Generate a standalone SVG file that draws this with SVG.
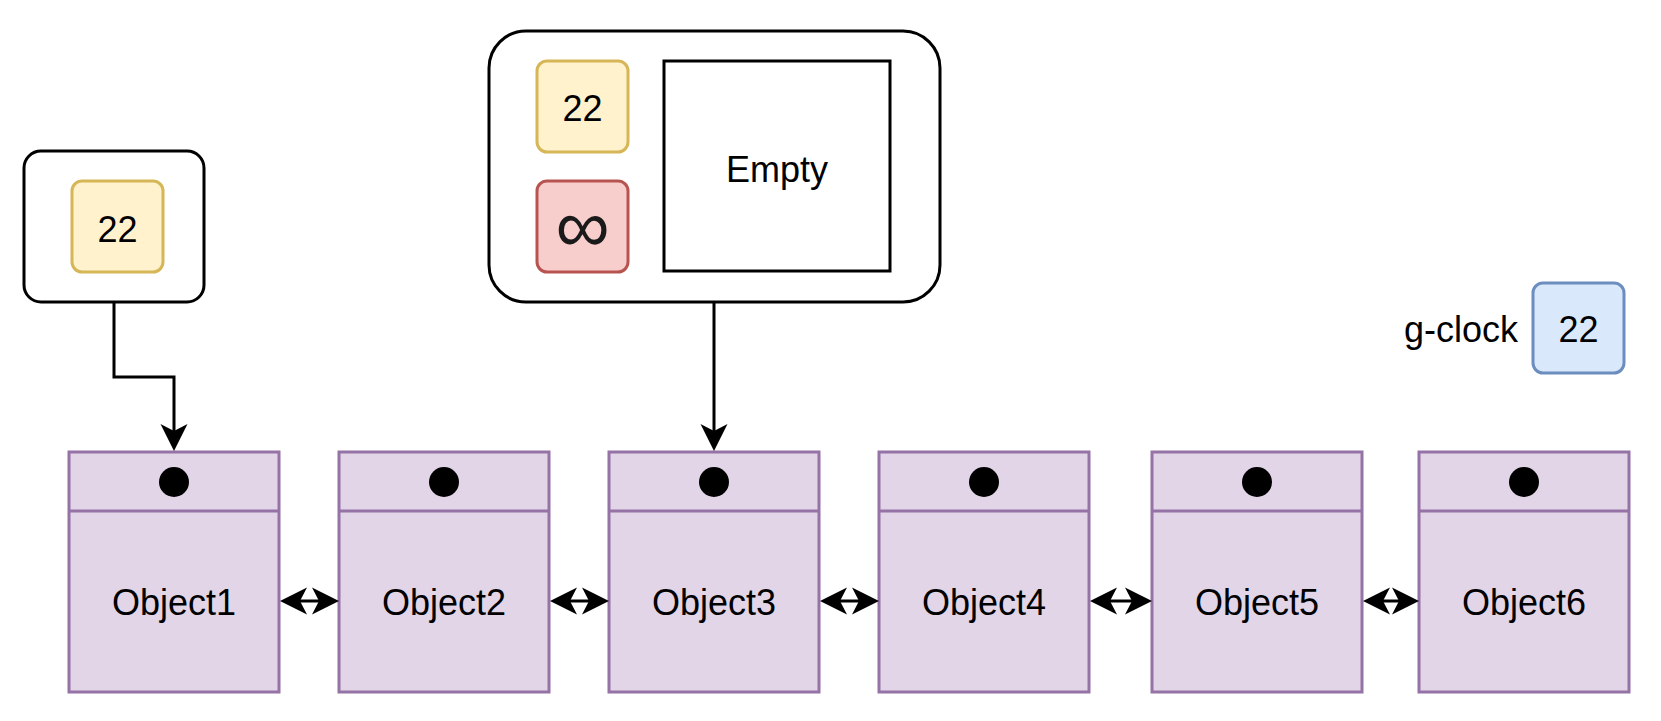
<svg xmlns="http://www.w3.org/2000/svg" width="1661" height="721" viewBox="0 0 1661 721">
<style>
text{font-family:"Liberation Sans",Arial,sans-serif;font-size:36px;fill:#000;text-anchor:middle}
.frame{fill:#fff;stroke:#000;stroke-width:3}
.yel{fill:#fff2cc;stroke:#d6b656;stroke-width:3}
.red{fill:#f8cecc;stroke:#b85450;stroke-width:3}
.blue{fill:#dae8fc;stroke:#6c8ebf;stroke-width:3}
.obj{fill:#e1d5e7;stroke:#9673a6;stroke-width:3}
.edge{fill:none;stroke:#000;stroke-width:3}
</style>
<defs>
<marker id="ah" markerUnits="userSpaceOnUse" markerWidth="40" markerHeight="40" viewBox="-10 -20 40 40" refX="7" refY="0" orient="auto-start-reverse" overflow="visible">
<path d="M0,-13.5 L27,0 L0,13.5 L7,0 Z" fill="#000"/>
</marker>
</defs>
<g id="holder1">
<rect class="frame" x="24" y="151" width="180" height="151" rx="17"/>
<rect class="yel" x="72" y="181" width="91" height="91" rx="10"/>
<text x="117.5" y="242">22</text>
</g>
<g id="holder2">
<rect class="frame" x="489" y="31" width="451" height="271" rx="37"/>
<rect class="yel" x="537" y="61" width="91" height="91" rx="10"/>
<text x="582.5" y="121">22</text>
<rect class="red" x="537" y="181" width="91" height="91" rx="10"/>
<text x="582.5" y="252" style="font-size:76px;fill:#1a1a1a">∞</text>
<rect class="frame" x="664" y="61" width="226" height="210"/>
<text x="777" y="182">Empty</text>
</g>
<g id="gclock">
<text x="1518" y="342" style="text-anchor:end">g-clock</text>
<rect class="blue" x="1533" y="283" width="91" height="90" rx="10"/>
<text x="1578.5" y="342">22</text>
</g>
<g id="object1"><rect class="obj" x="69" y="452" width="210" height="240"/><line class="obj" x1="69" y1="511" x2="279" y2="511"/><circle cx="174" cy="482" r="15"/><text x="174" y="615">Object1</text></g>
<g id="object2"><rect class="obj" x="339" y="452" width="210" height="240"/><line class="obj" x1="339" y1="511" x2="549" y2="511"/><circle cx="444" cy="482" r="15"/><text x="444" y="615">Object2</text></g>
<g id="object3"><rect class="obj" x="609" y="452" width="210" height="240"/><line class="obj" x1="609" y1="511" x2="819" y2="511"/><circle cx="714" cy="482" r="15"/><text x="714" y="615">Object3</text></g>
<g id="object4"><rect class="obj" x="879" y="452" width="210" height="240"/><line class="obj" x1="879" y1="511" x2="1089" y2="511"/><circle cx="984" cy="482" r="15"/><text x="984" y="615">Object4</text></g>
<g id="object5"><rect class="obj" x="1152" y="452" width="210" height="240"/><line class="obj" x1="1152" y1="511" x2="1362" y2="511"/><circle cx="1257" cy="482" r="15"/><text x="1257" y="615">Object5</text></g>
<g id="object6"><rect class="obj" x="1419" y="452" width="210" height="240"/><line class="obj" x1="1419" y1="511" x2="1629" y2="511"/><circle cx="1524" cy="482" r="15"/><text x="1524" y="615">Object6</text></g>
<g id="connectors">
<path class="edge" d="M114,302 V377 H174 V431" marker-end="url(#ah)"/>
<path class="edge" d="M714,302 V431" marker-end="url(#ah)"/>
<path class="edge" d="M300,601 H319" marker-start="url(#ah)" marker-end="url(#ah)"/>
<path class="edge" d="M570,601 H589" marker-start="url(#ah)" marker-end="url(#ah)"/>
<path class="edge" d="M840,601 H859" marker-start="url(#ah)" marker-end="url(#ah)"/>
<path class="edge" d="M1110,601 H1132" marker-start="url(#ah)" marker-end="url(#ah)"/>
<path class="edge" d="M1383,601 H1399" marker-start="url(#ah)" marker-end="url(#ah)"/>
</g>
</svg>
